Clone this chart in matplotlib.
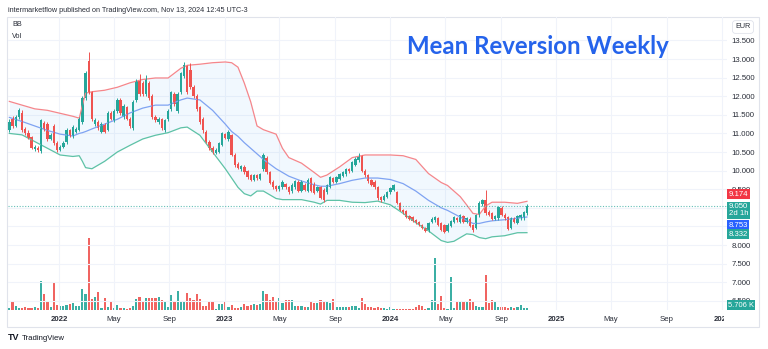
import matplotlib
matplotlib.use('Agg')
import matplotlib.pyplot as plt
import matplotlib.dates as mdates
import matplotlib.transforms as mtransforms
from matplotlib.patches import Rectangle
from datetime import date, timedelta

plt.rcParams['font.family'] = ['Liberation Sans', 'DejaVu Sans']

# weekly candles, first week 2021-09-13
opens = [
    11.10, 11.38, 11.20, 11.45, 11.55, 11.12, 11.02, 10.90, 10.58, 10.62,
    10.52, 11.28, 11.25, 10.85, 11.20, 10.75, 10.56, 10.64, 10.76, 11.08,
    10.92, 11.05, 11.10, 11.30, 11.95, 12.95, 12.10, 11.25, 11.30, 11.05,
    11.22, 11.10, 11.55, 11.35, 11.60, 11.90, 11.45, 11.70, 11.40, 11.15,
    11.90, 12.40, 12.35, 12.05, 12.35, 12.00, 11.45, 11.30, 11.38, 11.10,
    11.38, 11.65, 12.05, 11.60, 12.10, 12.55, 12.80, 12.70, 12.25, 12.00,
    11.70, 11.40, 11.05, 10.78, 10.62, 10.48, 10.50, 10.70, 10.98, 10.85,
    10.95, 10.42, 10.18, 10.05, 10.10, 9.98, 9.88, 9.75, 9.88, 9.78,
    10.05, 10.35, 9.95, 9.70, 9.58, 9.50, 9.55, 9.65, 9.55, 9.45,
    9.55, 9.70, 9.45, 9.62, 9.45, 9.80, 9.65, 9.45, 9.55, 9.48,
    9.42, 9.55, 9.80, 9.70, 9.78, 9.85, 9.90, 10.05, 10.00, 10.15,
    10.28, 10.38, 10.00, 9.88, 9.75, 9.70, 9.55, 9.28, 9.22, 9.30,
    9.42, 9.48, 9.42, 9.13, 8.95, 8.92, 8.78, 8.75, 8.68, 8.62,
    8.54, 8.45, 8.40, 8.62, 8.66, 8.72, 8.58, 8.53, 8.38, 8.52,
    8.63, 8.72, 8.62, 8.78, 8.63, 8.70, 8.53, 8.46, 8.80, 9.10,
    9.20, 8.90, 8.86, 8.70, 8.72, 9.00, 8.82, 8.75, 8.45, 8.72,
    8.60, 8.72, 8.72, 8.86]
closes = [
    11.30, 11.20, 11.45, 11.62, 11.10, 11.00, 10.88, 10.62, 10.64, 10.55,
    11.35, 11.12, 10.85, 10.95, 10.75, 10.55, 10.64, 10.75, 11.10, 10.95,
    11.18, 11.12, 11.40, 11.95, 12.62, 12.10, 11.40, 11.35, 11.15, 11.25,
    11.05, 11.55, 11.40, 11.60, 11.90, 11.55, 11.75, 11.40, 11.20, 11.85,
    12.40, 12.05, 12.05, 12.45, 11.95, 11.45, 11.35, 11.40, 11.15, 11.35,
    11.60, 12.10, 11.80, 12.05, 12.62, 12.85, 12.10, 12.25, 12.00, 11.65,
    11.30, 11.08, 10.78, 10.60, 10.50, 10.55, 10.74, 11.00, 10.88, 11.03,
    10.42, 10.15, 10.08, 10.12, 9.95, 9.82, 9.76, 9.88, 9.80, 9.90,
    10.42, 9.95, 9.68, 9.55, 9.50, 9.58, 9.70, 9.55, 9.42, 9.62,
    9.72, 9.45, 9.70, 9.48, 9.75, 9.45, 9.40, 9.55, 9.27, 9.20,
    9.60, 9.82, 9.70, 9.82, 9.90, 9.97, 10.05, 9.98, 10.22, 10.32,
    10.40, 10.00, 9.88, 9.72, 9.62, 9.55, 9.27, 9.20, 9.32, 9.42,
    9.52, 9.60, 9.13, 8.95, 8.88, 8.75, 8.70, 8.65, 8.60, 8.53,
    8.46, 8.38, 8.58, 8.70, 8.75, 8.55, 8.40, 8.35, 8.55, 8.65,
    8.75, 8.66, 8.80, 8.63, 8.72, 8.52, 8.40, 8.80, 9.13, 9.20,
    8.86, 8.82, 8.70, 8.78, 9.02, 8.82, 8.72, 8.43, 8.72, 8.63,
    8.78, 8.80, 8.89, 9.05]
highs = [
    11.38, 11.48, 11.50, 11.68, 11.62, 11.18, 11.08, 10.94, 10.70, 10.66,
    11.40, 11.32, 11.30, 11.00, 11.24, 10.80, 10.68, 10.80, 11.15, 11.12,
    11.22, 11.16, 11.45, 12.00, 12.68, 13.20, 12.15, 11.42, 11.36, 11.30,
    11.28, 11.60, 11.60, 11.66, 11.95, 11.95, 11.80, 11.75, 11.45, 11.90,
    12.45, 12.60, 12.40, 12.57, 12.42, 12.05, 11.50, 11.45, 11.42, 11.40,
    11.65, 12.15, 12.10, 12.10, 12.66, 12.93, 12.85, 12.90, 12.30, 12.05,
    11.75, 11.45, 11.10, 10.82, 10.66, 10.60, 10.78, 11.05, 11.02, 11.08,
    10.98, 10.46, 10.22, 10.16, 10.14, 10.02, 9.92, 9.92, 9.92, 9.94,
    10.47, 10.40, 9.98, 9.74, 9.62, 9.62, 9.74, 9.68, 9.58, 9.66,
    9.76, 9.74, 9.74, 9.66, 9.79, 9.84, 9.70, 9.58, 9.58, 9.52,
    9.63, 9.86, 9.84, 9.85, 9.93, 10.00, 10.08, 10.08, 10.25, 10.36,
    10.47, 10.42, 10.04, 9.92, 9.78, 9.74, 9.58, 9.32, 9.36, 9.45,
    9.55, 9.64, 9.46, 9.16, 8.98, 8.95, 8.82, 8.78, 8.70, 8.65,
    8.57, 8.48, 8.62, 8.74, 8.79, 8.76, 8.62, 8.56, 8.58, 8.68,
    8.78, 8.76, 8.83, 8.82, 8.75, 8.74, 8.56, 8.84, 9.17, 9.25,
    9.48, 8.93, 8.89, 8.82, 9.05, 9.04, 8.85, 8.78, 8.76, 8.75,
    8.81, 8.84, 8.92, 9.10]
lows = [
    11.05, 11.15, 11.16, 11.40, 11.05, 10.96, 10.84, 10.58, 10.54, 10.50,
    10.48, 11.06, 10.80, 10.82, 10.70, 10.50, 10.52, 10.60, 10.72, 10.90,
    10.88, 11.02, 11.06, 11.25, 11.90, 12.05, 11.34, 11.20, 11.10, 11.00,
    11.00, 11.06, 11.35, 11.30, 11.55, 11.50, 11.40, 11.36, 11.15, 11.10,
    11.85, 12.00, 12.00, 12.00, 11.90, 11.40, 11.30, 11.26, 11.10, 11.05,
    11.34, 11.60, 11.75, 11.55, 12.05, 12.50, 12.05, 12.20, 11.95, 11.60,
    11.25, 11.02, 10.74, 10.55, 10.45, 10.44, 10.46, 10.66, 10.84, 10.80,
    10.38, 10.10, 10.04, 10.00, 9.90, 9.78, 9.72, 9.72, 9.76, 9.74,
    10.00, 9.90, 9.64, 9.50, 9.46, 9.46, 9.50, 9.50, 9.38, 9.40,
    9.50, 9.42, 9.42, 9.44, 9.42, 9.42, 9.36, 9.42, 9.24, 9.15,
    9.38, 9.52, 9.66, 9.66, 9.74, 9.82, 9.86, 9.94, 9.96, 10.12,
    10.24, 9.96, 9.84, 9.68, 9.58, 9.50, 9.22, 9.16, 9.18, 9.26,
    9.38, 9.44, 9.10, 8.92, 8.84, 8.72, 8.66, 8.62, 8.56, 8.50,
    8.42, 8.34, 8.36, 8.58, 8.62, 8.52, 8.37, 8.32, 8.35, 8.48,
    8.60, 8.62, 8.58, 8.60, 8.60, 8.49, 8.36, 8.42, 8.76, 9.05,
    8.82, 8.78, 8.66, 8.66, 8.68, 8.78, 8.68, 8.40, 8.42, 8.60,
    8.57, 8.68, 8.68, 8.82]
volumes = [  # thousands
    6, 25, 12, 6, 6, 8, 6, 5, 8, 6,
    84, 46, 26, 9, 81, 15, 12, 12, 15, 17,
    20, 12, 11, 61, 46, 212, 32, 38, 52, 6,
    35, 9, 23, 6, 15, 5, 5, 4, 5, 12,
    32, 38, 23, 35, 35, 36, 35, 38, 29, 23,
    9, 44, 26, 55, 26, 26, 49, 35, 29, 46,
    32, 12, 12, 23, 23, 4, 17, 17, 23, 9,
    15, 6, 6, 9, 17, 12, 15, 17, 15, 17,
    55, 46, 29, 38, 23, 35, 20, 29, 29, 29,
    12, 12, 12, 9, 9, 26, 20, 20, 29, 26,
    26, 20, 32, 9, 9, 9, 9, 9, 12, 12,
    6, 35, 17, 9, 9, 6, 9, 6, 6, 4,
    9, 3, 3, 3, 3, 3, 3, 3, 9, 15,
    12, 3, 6, 29, 154, 17, 41, 6, 3, 96,
    6, 23, 26, 26, 23, 32, 26, 12, 9, 9,
    104, 20, 29, 23, 9, 9, 9, 6, 9, 6,
    9, 15, 6, 5.706]

# Bollinger bands (20, 2) read at selected weeks
bb_weeks = [0, 4, 8, 12, 16, 20, 22, 23, 24, 26, 30, 34, 38, 42, 46, 50, 54, 56,
            60, 64, 68, 70, 72, 74, 76, 78, 80, 84, 86, 88, 92, 96, 98, 100, 104,
            108, 112, 116, 120, 124, 128, 132, 136, 138, 140, 142, 144, 146, 148,
            150, 152, 156, 160, 163]
bb_upper = [11.86, 11.76, 11.66, 11.62, 11.54, 11.46, 11.41, 11.75, 12.08, 12.12,
            12.16, 12.24, 12.36, 12.45, 12.49, 12.49, 12.75, 12.83, 12.86, 12.90,
            12.92, 12.90, 12.78, 12.35, 11.85, 11.20, 11.10, 10.98, 10.60, 10.35,
            10.20, 9.95, 9.82, 9.88, 10.10, 10.35, 10.42, 10.42, 10.42, 10.40,
            10.30, 9.92, 9.68, 9.60, 9.45, 9.30, 9.08, 8.85, 8.82, 9.05,
            9.15, 9.15, 9.12, 9.174]
bb_basis = [11.43, 11.32, 11.20, 11.08, 10.98, 10.93, 11.00, 11.02, 11.05, 11.12,
            11.25, 11.38, 11.55, 11.68, 11.76, 11.76, 11.90, 11.95, 11.90, 11.62,
            11.25, 11.05, 10.92, 10.75, 10.60, 10.45, 10.30, 10.05, 9.95, 9.85,
            9.72, 9.62, 9.58, 9.58, 9.65, 9.74, 9.80, 9.80, 9.76, 9.65,
            9.45, 9.20, 9.00, 8.93, 8.84, 8.75, 8.66, 8.58, 8.58, 8.62,
            8.65, 8.68, 8.72, 8.753]
bb_lower = [11.00, 10.96, 10.78, 10.60, 10.42, 10.38, 10.40, 10.25, 10.08, 10.05,
            10.25, 10.50, 10.68, 10.85, 10.95, 11.02, 11.15, 11.17, 10.95, 10.50,
            10.05, 9.80, 9.55, 9.38, 9.32, 9.45, 9.45, 9.25, 9.22, 9.22,
            9.22, 9.15, 9.10, 9.20, 9.20, 9.15, 9.14, 9.18, 9.08, 8.85,
            8.60, 8.38, 8.12, 8.07, 8.10, 8.20, 8.30, 8.28, 8.20, 8.17,
            8.22, 8.25, 8.33, 8.332]

tick_dates = [date(2022, 1, 1), date(2022, 5, 1), date(2022, 9, 1), date(2023, 1, 1),
              date(2023, 5, 1), date(2023, 9, 1), date(2024, 1, 1), date(2024, 5, 1),
              date(2024, 9, 1), date(2025, 1, 1), date(2025, 5, 1), date(2025, 9, 1),
              date(2026, 1, 1)]
tick_labels = ['2022', 'May', 'Sep', '2023', 'May', 'Sep', '2024', 'May', 'Sep',
               '2025', 'May', 'Sep', '2026']
price_ticks = [6.5, 7.0, 7.5, 8.0, 8.5, 9.0, 9.5, 10.0, 10.5, 11.0, 11.5, 12.0, 12.5, 13.0, 13.5]
# 8.500 and 9.000 sit fully under the price tags in the original
price_labels = ['6.500', '7.000', '7.500', '8.000', '', '', '9.500', '10.000', '10.500',
                '11.000', '11.500', '12.000', '12.500', '13.000', '13.500']

UP = '#26a69a'
DOWN = '#ef5350'

start = date(2021, 9, 13)
dates = [start + timedelta(weeks=i) for i in range(len(closes))]
x = mdates.date2num(dates)
bb_x = [x[i] for i in bb_weeks]
colors = [UP if c >= o else DOWN for o, c in zip(opens, closes)]

fig = plt.figure(figsize=(7.68, 3.49), dpi=100)
W, H = 768, 349
ax = fig.add_axes([8 / W, 1 - 310 / H, 719 / W, 293 / H])
ax2 = ax.twinx()
ax.set_zorder(ax2.get_zorder() + 1)
ax.patch.set_visible(False)

# volume
ax2.bar(x, volumes, width=4.8, color=colors, alpha=0.9, linewidth=0)
ax2.set_ylim(0, max(volumes) * 4.07)
ax2.set_yticks([])
for s in ax2.spines.values():
    s.set_visible(False)

# bollinger bands
ax.fill_between(bb_x, bb_lower, bb_upper, color='#2196f3', alpha=0.06, linewidth=0)
ax.plot(bb_x, bb_upper, color='#f5868b', lw=0.9)
ax.plot(bb_x, bb_basis, color='#7fa3f2', lw=0.9)
ax.plot(bb_x, bb_lower, color='#5ec2a6', lw=0.9)

# candles
ax.vlines(x, lows, highs, colors=colors, lw=0.7)
ax.bar(x, [c - o for o, c in zip(opens, closes)], bottom=opens, width=5.2,
       color=colors, linewidth=0)

# last price line
ax.axhline(closes[-1], color=UP, lw=0.8, ls=(0, (1, 1.5)), alpha=0.7)

ax.set_xlim(mdates.date2num(date(2021, 9, 10)), mdates.date2num(date(2026, 1, 12)))
ax.set_ylim(6.253, 14.129)

ax.set_yticks(price_ticks, price_labels)
ax.yaxis.tick_right()
ax.tick_params(axis='y', length=0, pad=3, labelsize=5.6, colors='#2a2e39')
ax.set_xticks(mdates.date2num(tick_dates), tick_labels)
ax.tick_params(axis='x', length=0, pad=4, labelsize=5.6, colors='#2a2e39')
for lab in ax.get_xticklabels():
    if lab.get_text().isdigit():
        lab.set_fontweight('bold')
clip = mtransforms.TransformedBbox(mtransforms.Bbox([[0, 0], [724 / W, 1]]), fig.transFigure)
ax.get_xticklabels()[-1].set_clip_box(clip)
ax.get_xticklabels()[-1].set_clip_on(True)
ax.grid(True, color='#f0f3fa', lw=0.8)
ax.set_axisbelow(True)
for s in ax.spines.values():
    s.set_visible(False)

# price tags on the scale
ytrans = mtransforms.blended_transform_factory(ax.transAxes, ax.transData)
tags = [(bb_upper[-1], '%.3f' % bb_upper[-1], '#f23645', 5.2),
        (closes[-1], '%.3f\n2d 1h' % closes[-1], UP, -3.0),
        (bb_basis[-1], '%.3f' % bb_basis[-1], '#2962ff', -5.8),
        (bb_lower[-1], '%.3f' % bb_lower[-1], UP, -1.0)]
for val, txt, col, dy in tags:
    ax.annotate(txt, xy=(1.0, val), xycoords=ytrans, xytext=(1.2, dy),
                textcoords='offset points', ha='left', va='center', fontsize=5.6,
                color='white', linespacing=1.05, annotation_clip=False, zorder=10,
                bbox=dict(boxstyle='square,pad=0.18', fc=col, ec='none'))
vtrans = mtransforms.blended_transform_factory(ax.transAxes, ax2.transData)
ax.annotate('%.3f K' % volumes[-1], xy=(1.0, volumes[-1]), xycoords=vtrans,
            xytext=(0.8, 2.0), textcoords='offset points', ha='left', va='center',
            fontsize=5.4, color='white', annotation_clip=False, zorder=10,
            bbox=dict(boxstyle='square,pad=0.18', fc=UP, ec='none'))

# frame and texts
fig.add_artist(Rectangle((7 / W, 1 - 327 / H), 752 / W, 310 / H, transform=fig.transFigure,
                         fill=False, ec='#e0e3eb', lw=0.8))
fig.text(8 / W, 1 - 10 / H,
         'intermarketflow published on TradingView.com, Nov 13, 2024 12:45 UTC-3',
         fontsize=5.2, color='#2a2e39', va='center')
fig.text(12 / W, 1 - 25 / H, 'BB', fontsize=5.2, color='#2a2e39', va='center')
fig.text(12 / W, 1 - 37 / H, 'Vol', fontsize=5.2, color='#2a2e39', va='center')
fig.text(743 / W, 1 - 27 / H, 'EUR', fontsize=5.2, color='#2a2e39', va='center', ha='center',
         bbox=dict(boxstyle='round,pad=0.4', fc='white', ec='#e0e3eb', lw=0.6))
fig.text(538 / W, 1 - 47 / H, 'Mean Reversion Weekly', fontsize=17.3, fontweight='bold',
         family=['Lato', 'DejaVu Sans'], color='#2563eb', ha='center', va='center')
fig.text(8 / W, 1 - 338 / H, 'TV', fontsize=6.5, fontweight='heavy', color='#131722',
         va='center')
fig.text(22 / W, 1 - 338 / H, 'TradingView', fontsize=5.6, color='#131722', va='center')

fig.savefig('out.png', dpi=100, facecolor='white')
